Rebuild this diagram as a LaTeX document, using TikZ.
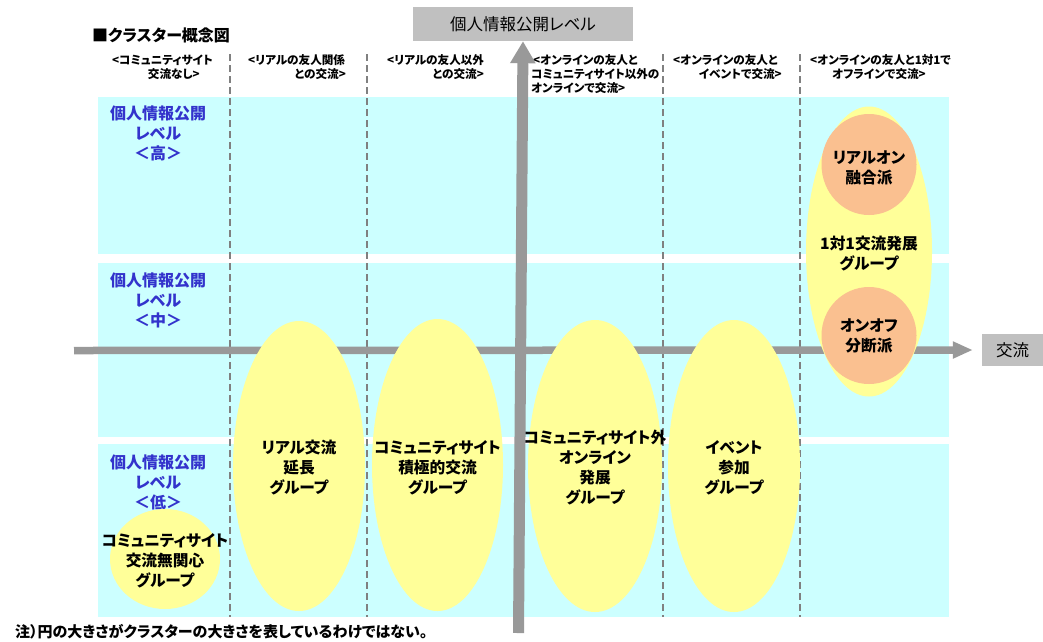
\documentclass[tikz,border=0pt]{standalone}
\usepackage{fontspec}
\setmainfont{Noto Sans CJK JP}[RawFeature=+palt]
\usetikzlibrary{arrows.meta,shapes.geometric}
\definecolor{bandc}{HTML}{CCFFFF}
\definecolor{grpy}{HTML}{FFFF99}
\definecolor{subo}{HTML}{FAC090}
\definecolor{lvlblue}{HTML}{3333CC}
\definecolor{axisgray}{HTML}{999999}
\definecolor{boxgray}{HTML}{C0C0C0}
\definecolor{sepgray}{HTML}{808080}
\begin{document}
\begin{tikzpicture}[x=1pt,y=-1pt,
  band/.style={fill=bandc,draw=none},
  sepline/.style={draw=sepgray,line width=2pt,dash pattern=on 7pt off 4pt},
  headtxt/.style={font=\fontsize{11.6}{13}\selectfont\bfseries,inner sep=0pt},
  lvltxt/.style={font=\fontsize{16}{20}\selectfont\bfseries,text=lvlblue,align=center,inner sep=0pt},
  grp/.style={ellipse,fill=grpy,draw=none,inner sep=0pt},
  subgrp/.style={ellipse,fill=subo,draw=none,inner sep=0pt},
  gtxt/.style={font=\fontsize{15.7}{20}\selectfont\bfseries,align=center,inner sep=0pt},
  axisbox/.style={fill=boxgray,draw=none,font=\fontsize{16.5}{18}\selectfont,inner sep=0pt},
  axisline/.style={draw=axisgray}
]
\useasboundingbox (0,0) rectangle (1043,641);
% bands
\fill[band] (98,97) rectangle (949,254);
\fill[band] (98,263) rectangle (949,437);
\fill[band] (98,444) rectangle (949,617);
% separators
\foreach \xx in {229.5,367,663,799.5}{\draw[sepline] (\xx,54) -- (\xx,617);}
% title
\node[anchor=west,inner sep=0pt,font=\fontsize{16}{18}\selectfont\bfseries] (title) at (92,35) {■クラスター概念図};
% headers
\node[headtxt,anchor=west] (h1a) at (112,60) {<コミュニティサイト};
\node[headtxt,anchor=east] (h1b) at (200,74) {交流なし>};
\node[headtxt,anchor=west] (h2a) at (248,60) {<リアルの友人関係};
\node[headtxt,anchor=east] (h2b) at (346,74) {との交流>};
\node[headtxt,anchor=west] (h3a) at (387,60) {<リアルの友人以外};
\node[headtxt,anchor=east] (h3b) at (484,74) {との交流>};
\node[headtxt,anchor=west] (h4a) at (533,60) {<オンラインの友人と};
\node[headtxt,anchor=west] (h4b) at (531,74) {コミュニティサイト以外の};
\node[headtxt,anchor=west] (h4c) at (531,88) {オンラインで交流>};
\node[headtxt,anchor=west] (h5a) at (673,60) {<オンラインの友人と};
\node[headtxt,anchor=east] (h5b) at (782,74) {イベントで交流>};
\node[headtxt,anchor=west] (h6a) at (810,60) {<オンラインの友人と1対1で};
\node[headtxt,anchor=west] (h6b) at (832,74) {オフラインで交流>};
% level labels
\node[lvltxt] (l1) at (158,133) {個人情報公開\\レベル\\＜高＞};
\node[lvltxt] (l2) at (158,300) {個人情報公開\\レベル\\＜中＞};
\node[lvltxt] (l3) at (158,482) {個人情報公開\\レベル\\＜低＞};
% axis boxes
\node[axisbox,minimum width=220pt,minimum height=34pt] (lvlbox) at (523,24) {個人情報公開レベル};
\node[axisbox,minimum width=61pt,minimum height=32pt] (kbox) at (1012.5,350) {交流};
% axes
\coordinate (hs) at (74,350.5);
\coordinate (vs) at (518.5,633);
\draw[axisline,line width=7.5pt,-{Triangle[length=20pt,width=16pt]}] (hs) -- ([xshift=-9pt]kbox.west);
\draw[axisline,line width=11pt,-{Triangle[length=22pt,width=24pt]}] (vs) -- (lvlbox.south);
% groups
\node[grp,minimum width=110pt,minimum height=100pt] (g1) at (165,559) {};
\node[grp,minimum width=132pt,minimum height=290pt] (g2) at (299,466) {};
\node[grp,minimum width=131pt,minimum height=292pt] (g3) at (437.5,465) {};
\node[grp,minimum width=134pt,minimum height=292pt] (g4) at (595,466) {};
\node[grp,minimum width=132pt,minimum height=292pt] (g5) at (734,466) {};
\node[grp,minimum width=126pt,minimum height=290pt] (g6) at (869,251.5) {};
\node[subgrp,minimum width=95pt,minimum height=101pt] (s1) at (869,164.5) {};
\node[subgrp,minimum width=95pt,minimum height=97pt] (s2) at (869,335.5) {};
% group texts
\node[gtxt] (t1) at (165,561) {コミュニティサイト\\交流無関心\\グループ};
\node[gtxt] (t2) at (299,467.5) {リアル交流\\延長\\グループ};
\node[gtxt] (t3) at (437.5,467.5) {コミュニティサイト\\積極的交流\\グループ};
\node[gtxt] (t4) at (595,467.5) {コミュニティサイト外\\オンライン\\発展\\グループ};
\node[gtxt] (t5) at (734,467.5) {イベント\\参加\\グループ};
\node[gtxt] (t6) at (869,253.5) {1対1交流発展\\グループ};
\node[gtxt] (ts1) at (869,167.5) {リアルオン\\融合派};
\node[gtxt] (ts2) at (869,335.5) {オンオフ\\分断派};
% footnote
\node[anchor=west,inner sep=0pt,font=\fontsize{15}{17}\selectfont\bfseries] (note) at (15,632) {注）円の大きさがクラスターの大きさを表しているわけではない。};
\end{tikzpicture}
\end{document}
